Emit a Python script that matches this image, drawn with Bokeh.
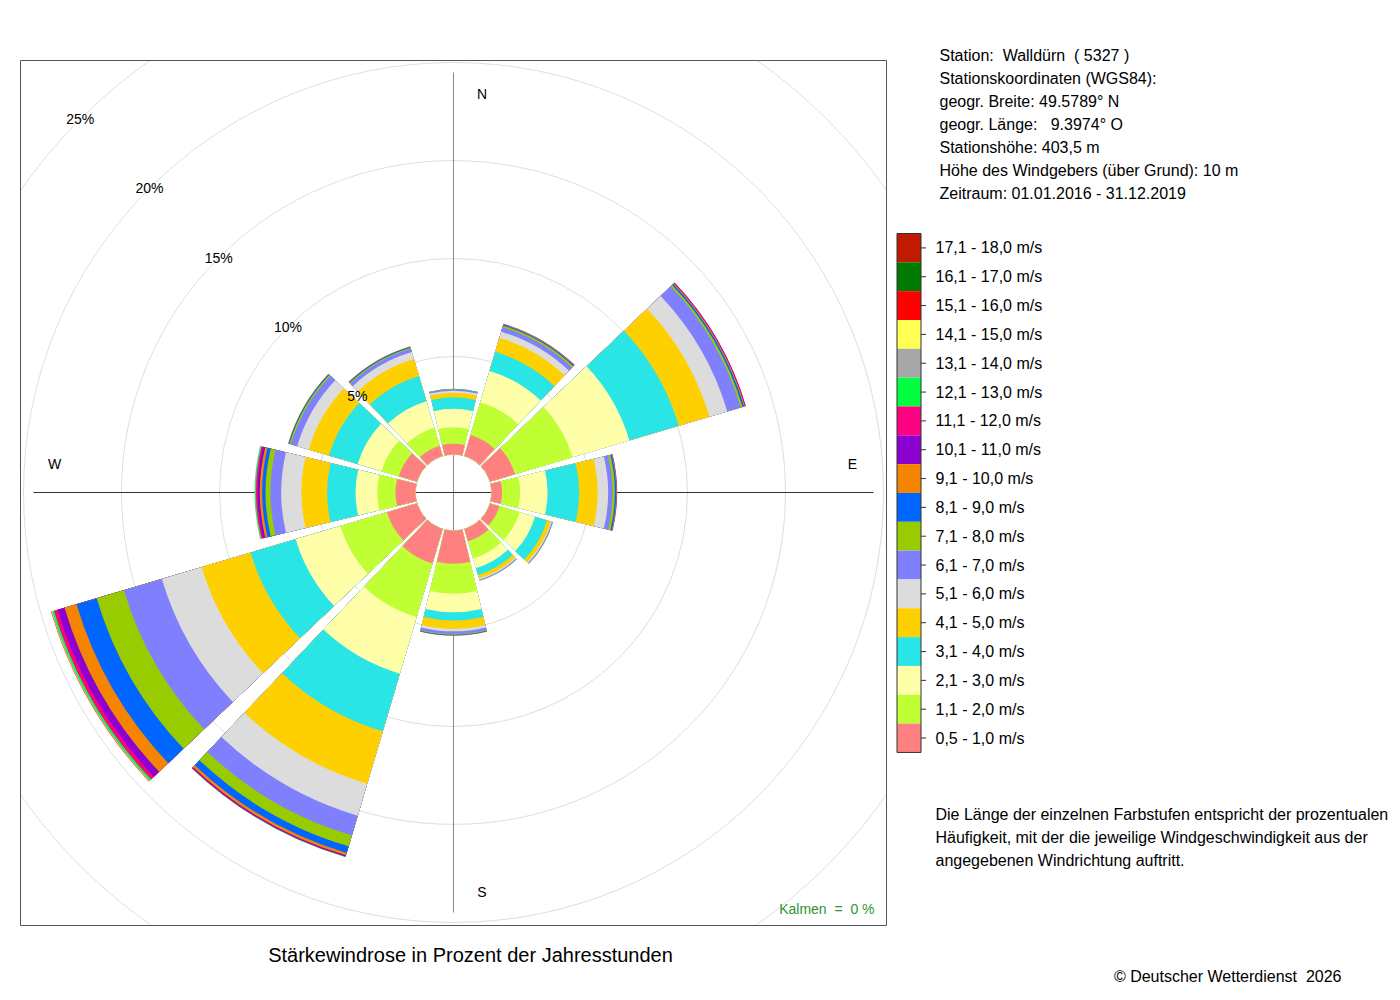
import numpy as np
from bokeh.plotting import figure
from bokeh.models import ColumnDataSource, Range1d
from bokeh.embed import file_html
from bokeh.resources import INLINE
from bokeh.core.properties import value

# ---------------- data ----------------
directions = [0, 30, 60, 90, 120, 150, 180, 210, 240, 270, 300, 330]

speed_classes = ["0,5 - 1,0 m/s", "1,1 - 2,0 m/s", "2,1 - 3,0 m/s", "3,1 - 4,0 m/s",
                 "4,1 - 5,0 m/s", "5,1 - 6,0 m/s", "6,1 - 7,0 m/s", "7,1 - 8,0 m/s",
                 "8,1 - 9,0 m/s", "9,1 - 10,0 m/s", "10,1 - 11,0 m/s", "11,1 - 12,0 m/s",
                 "12,1 - 13,0 m/s", "13,1 - 14,0 m/s", "14,1 - 15,0 m/s", "15,1 - 16,0 m/s",
                 "16,1 - 17,0 m/s", "17,1 - 18,0 m/s"]

class_colors = ["#FF8080", "#BFFF33", "#FFFFAA", "#2AE5E5", "#FFD000", "#DCDCDC",
                "#8080FF", "#99CC00", "#0066FF", "#F58500", "#8C00D0", "#FF0080",
                "#00FF40", "#A8A8A8", "#FFFF55", "#FF0000", "#007A00", "#C01A00"]

# percent of hours per speed class (0,5-1,0 m/s first) for each direction
freq_000 = [0.55, 0.84, 0.94, 0.59, 0.23, 0.10, 0.07, 0.02, 0.01]
freq_030 = [1.12, 1.74, 1.67, 1.02, 0.75, 0.32, 0.23, 0.09, 0.05, 0.03, 0.02]
freq_060 = [1.34, 3.06, 3.02, 2.63, 1.63, 0.95, 0.71, 0.10, 0.08, 0.05, 0.03, 0.02]
freq_090 = [0.54, 0.92, 1.40, 1.61, 0.94, 0.54, 0.22, 0.12, 0.07, 0.03, 0.02]
freq_120 = [0.51, 1.07, 0.82, 0.64, 0.20, 0.06, 0.05, 0.02]
freq_150 = [0.66, 0.92, 0.51, 0.36, 0.18, 0.07, 0.05, 0.01]
freq_180 = [1.70, 1.53, 0.94, 0.42, 0.43, 0.12, 0.13, 0.05, 0.04, 0.01]
freq_210 = [1.84, 2.85, 3.01, 3.07, 2.79, 1.70, 1.05, 0.58, 0.35, 0.13, 0.05, 0.03, 0.02]
freq_240 = [1.60, 2.48, 2.38, 2.40, 2.60, 2.12, 2.02, 1.45, 1.07, 0.64, 0.37, 0.19,
            0.09, 0.03, 0.02, 0.02]
freq_270 = [1.02, 0.93, 1.11, 1.45, 1.31, 1.03, 0.55, 0.25, 0.17, 0.12, 0.11, 0.08,
            0.05, 0.03]
freq_300 = [0.97, 0.92, 1.27, 1.53, 1.08, 0.61, 0.33, 0.08, 0.05, 0.03]
freq_330 = [0.55, 0.96, 1.41, 1.34, 0.91, 0.37, 0.17, 0.06, 0.05, 0.03]

calm_percent = 0
ring_levels = [5, 10, 15, 20, 25]

NB = "\u00a0"
station_lines = ["Station:" + NB + " Walldürn" + NB + " ( 5327 )",
                 "Stationskoordinaten (WGS84):",
                 "geogr. Breite: 49.5789° N",
                 "geogr. Länge:" + NB + NB + " 9.3974° O",
                 "Stationshöhe: 403,5 m",
                 "Höhe des Windgebers (über Grund): 10 m",
                 "Zeitraum: 01.01.2016 - 31.12.2019"]
note_lines = ["Die Länge der einzelnen Farbstufen entspricht der prozentualen",
              "Häufigkeit, mit der die jeweilige Windgeschwindigkeit aus der",
              "angegebenen Windrichtung auftritt."]
chart_title = "Stärkewindrose in Prozent der Jahresstunden"
copyright_text = "© Deutscher Wetterdienst" + NB + " 2026"
calm_text = "Kalmen" + NB + " =" + NB + " " + str(calm_percent) + " %"

all_freq = [freq_000, freq_030, freq_060, freq_090, freq_120, freq_150,
            freq_180, freq_210, freq_240, freq_270, freq_300, freq_330]

# ---------------- geometry / style ----------------
PX = 19.6            # pixels per percent
CX, CY = 453.0, 492.0  # rose centre on the page (px)
HOLE = 38.0 / PX     # empty centre
HALF = 13.5          # half opening of a sector (deg)
FONT = value("Liberation Sans")
W, H = 1392, 992


def fx(xp):
    return (xp - CX) / PX


def fy(yp):
    return (CY - yp) / PX


p = figure(width=W, height=H, x_range=Range1d(fx(0), fx(W)), y_range=Range1d(fy(H), fy(0)),
           min_border=0, toolbar_location=None, output_backend="svg",
           x_axis_location=None, y_axis_location=None, outline_line_color=None,
           background_fill_color="white", border_fill_color="white")
p.xgrid.visible = False
p.ygrid.visible = False

# grid rings
p.circle(x=[0] * (len(ring_levels) + 1), y=[0] * (len(ring_levels) + 1),
         radius=[HOLE] + [HOLE + lv for lv in ring_levels],
         fill_color=None, line_color="#DEDEDE", line_width=1)

# cross lines
L = 420 / PX
p.segment(x0=[0], y0=[-L], x1=[0], y1=[L], line_color="#8A8A8A", line_width=1)
p.segment(x0=[-L], y0=[0], x1=[L], y1=[0], line_color="#333333", line_width=1)

# stacked wedges (outermost class drawn first, inner ones on top)
rows = dict(inner=[], outer=[], start=[], end=[], color=[])
for d, freqs in zip(directions, all_freq):
    cum = np.cumsum(freqs)
    for k in range(len(freqs) - 1, -1, -1):
        if freqs[k] <= 0:
            continue
        rows["inner"].append(HOLE)
        rows["outer"].append(HOLE + cum[k])
        rows["start"].append(np.deg2rad(90 - d - HALF))
        rows["end"].append(np.deg2rad(90 - d + HALF))
        rows["color"].append(class_colors[k])
src = ColumnDataSource(rows)
p.annular_wedge(x=0, y=0, inner_radius="inner", outer_radius="outer",
                start_angle="start", end_angle="end",
                fill_color="color", line_color=None, source=src)

# white masks outside the plotting box, then the box itself
BX0, BX1, BY0, BY1 = 20, 886, 60, 925
E0, E1 = -40, W + 40
F0, F1 = -40, H + 40
p.quad(left=[fx(E0), fx(E0), fx(E0), fx(BX1)], right=[fx(E1), fx(BX0), fx(E1), fx(E1)],
       top=[fy(F0), fy(F0), fy(BY1), fy(F0)], bottom=[fy(BY0), fy(F1), fy(F1), fy(F1)],
       fill_color="white", line_color="white", line_width=1)
p.quad(left=[fx(BX0)], right=[fx(BX1)], top=[fy(BY0)], bottom=[fy(BY1)],
       fill_color=None, line_color="#555555", line_width=1)

# ring labels along NW diagonal
c45 = np.cos(np.pi / 4)
p.text(x=[-(HOLE + lv) * c45 for lv in ring_levels], y=[(HOLE + lv) * c45 for lv in ring_levels],
       text=[f"{lv}%" for lv in ring_levels], text_font=FONT, text_font_size="14px",
       text_align="center", text_baseline="middle", text_color="black")

# compass labels
R = 399 / PX
S = 28.5 / PX
p.text(x=[S, R, S, -R], y=[R, S, -R, S], text=["N", "E", "S", "W"], text_font=FONT,
       text_font_size="14px", text_align="center", text_baseline="middle", text_color="black")

# calm
p.text(x=[fx(874)], y=[fy(908)], text=[calm_text], text_font=FONT, text_font_size="14px",
       text_align="right", text_baseline="middle", text_color="#2E962E")

# title under the box
p.text(x=[fx(470)], y=[fy(954)], text=[chart_title], text_font=FONT, text_font_size="20px",
       text_align="center", text_baseline="middle", text_color="black")

# ---------------- right panel ----------------
p.text(x=[fx(939)] * len(station_lines), y=[fy(55 + 23 * i) for i in range(len(station_lines))],
       text=station_lines, text_font=FONT, text_font_size="16px", text_align="left",
       text_baseline="middle", text_color="black")

n = len(speed_classes)
top, step = 233.0, 28.83
order = list(range(n - 1, -1, -1))          # highest class on top
tops = [top + step * i for i in range(n)]
p.quad(left=fx(896.5), right=fx(920.5), top=[fy(t) for t in tops],
       bottom=[fy(t + step) for t in tops],
       fill_color=[class_colors[k] for k in order], line_color=None)
p.quad(left=[fx(896.5)], right=[fx(920.5)], top=[fy(top)], bottom=[fy(top + step * n)],
       fill_color=None, line_color="#333333", line_width=1)
centers = [t + step / 2 for t in tops]
p.segment(x0=[fx(920.5)] * n, x1=[fx(925.5)] * n, y0=[fy(c) for c in centers],
          y1=[fy(c) for c in centers], line_color="#333333")
p.text(x=[fx(935)] * n, y=[fy(c) for c in centers], text=[speed_classes[k] for k in order],
       text_font=FONT, text_font_size="16px", text_align="left", text_baseline="middle",
       text_color="black")

p.text(x=[fx(935)] * len(note_lines), y=[fy(814 + 23 * i) for i in range(len(note_lines))],
       text=note_lines, text_font=FONT, text_font_size="16px", text_align="left",
       text_baseline="middle", text_color="black")

p.text(x=[fx(1341)], y=[fy(976)], text=[copyright_text], text_font=FONT, text_font_size="16px",
       text_align="right", text_baseline="middle", text_color="black")

open("out.html", "w").write(file_html(p, INLINE))
